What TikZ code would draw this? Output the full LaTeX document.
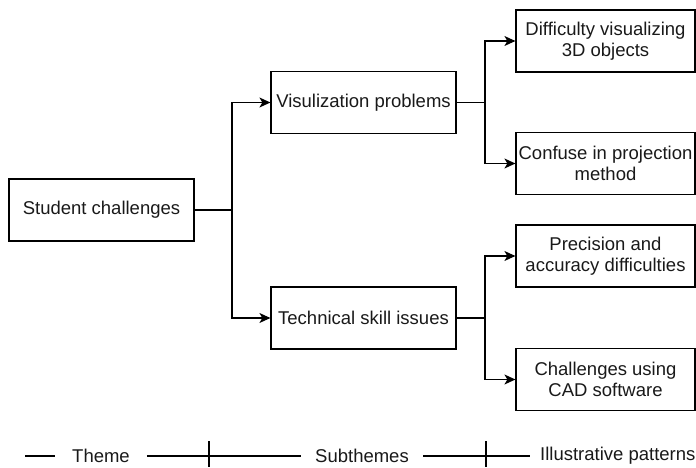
\documentclass[tikz,border=0pt]{standalone}
\usepackage{fontspec}
\setmainfont{Liberation Sans}
\usetikzlibrary{arrows.meta}
\begin{document}
\begin{tikzpicture}[x=1pt,y=-1pt,
  txt/.style={font=\fontsize{18.5}{21.5}\selectfont, text=black!90},
  box/.style={txt, draw, line width=1.2pt, minimum width=185pt, minimum height=62pt, inner sep=2pt, align=center},
  leaf/.style={box, minimum width=179pt},
  wire/.style={line width=1.2pt},
  link/.style={wire, -{Stealth[length=11pt,width=10pt,inset=3pt]}},
  key/.style={txt, fill=white, inner ysep=2pt}
]
\useasboundingbox (0,0) rectangle (696,468);

% theme, subthemes and patterns
\node[box] (root) at (101.5,210) {Student challenges};
\node[box] (vis)  at (363.5,102.5) {Visulization problems};
\node[box] (tech) at (363.5,318) {Technical skill issues};
\node[leaf] (d1) at (605.5,41)    {Difficulty visualizing\\3D objects};
\node[leaf] (d2) at (605.5,163.5) {Confuse in projection\\method};
\node[leaf] (d3) at (605.5,256)   {Precision and\\accuracy difficulties};
\node[leaf] (d4) at (605.5,379.5) {Challenges using\\CAD software};

% branching connectors
\coordinate (j0) at (232,210);
\coordinate (j1) at (485,102.5);
\coordinate (j2) at (485,318);
\draw[wire] (root.east) -- (j0);
\draw[link] (j0) |- (vis.west);
\draw[link] (j0) |- (tech.west);
\draw[wire] (vis.east) -- (j1);
\draw[link] (j1) |- (d1.west);
\draw[link] (j1) |- (d2.west);
\draw[wire] (tech.east) -- (j2);
\draw[link] (j2) |- (d3.west);
\draw[link] (j2) |- (d4.west);

% level key along the bottom
\coordinate (k0) at (25,456);
\node[key, inner xsep=17pt] (kt) at (101,456) {Theme};
\node[key, inner xsep=14.5pt] (ks) at (362,456) {Subthemes};
\node[key, inner xsep=10pt, anchor=west] (ki) at (530,456) {Illustrative patterns};
\draw[wire] (k0) -- (kt.west);
\draw[wire] (kt.east) -- (ks.west);
\draw[wire] (ks.east) -- (ki.west);
\coordinate (t1a) at (209,441);
\coordinate (t1b) at (209,467);
\coordinate (t2a) at (486,441);
\coordinate (t2b) at (486,467);
\draw[wire] (t1a) -- (t1b);
\draw[wire] (t2a) -- (t2b);
\end{tikzpicture}
\end{document}
